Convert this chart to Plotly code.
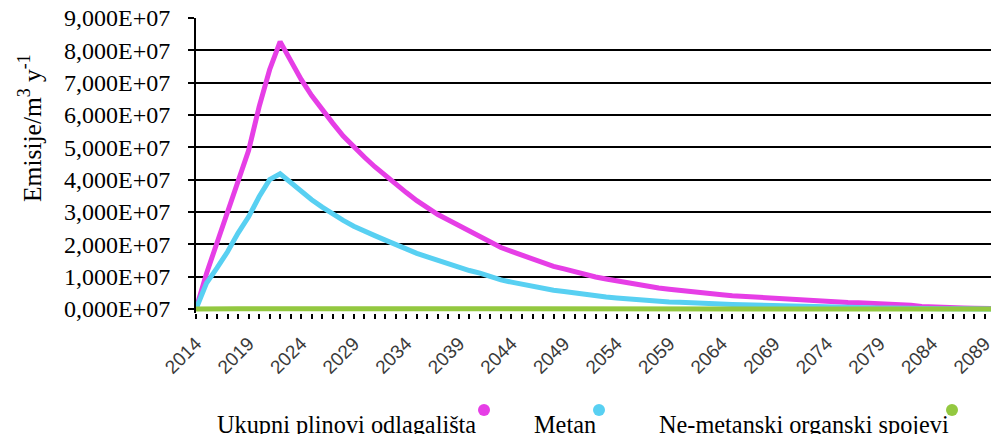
import plotly.graph_objects as go

years = list(range(2014, 2091))

# values in units of 1E+07 m3/y
ukupni = [0.0, 1.1, 2.05, 3.0, 3.9, 4.9, 6.25, 7.4, 8.27,
          7.65, 7.1, 6.6, 6.15, 5.75, 5.35, 5.0, 4.7, 4.4, 4.12,
          3.85, 3.6, 3.35, 3.12, 2.92, 2.75, 2.58, 2.4, 2.23, 2.06,
          1.9, 1.78, 1.66, 1.55, 1.43, 1.32, 1.24, 1.15, 1.07, 0.99,
          0.93, 0.87, 0.80, 0.74, 0.69, 0.65, 0.61, 0.57, 0.53, 0.50,
          0.47, 0.44, 0.41, 0.39, 0.37, 0.34, 0.31, 0.29, 0.27, 0.25,
          0.23, 0.22, 0.21, 0.20, 0.19, 0.18, 0.17, 0.16, 0.15, 0.12,
          0.08, 0.06, 0.05, 0.04, 0.03, 0.02, 0.02, 0.01]

metan = [0.0, 0.8, 1.27, 1.77, 2.35, 2.85, 3.47, 4.0, 4.18,
         3.9, 3.62, 3.38, 3.15, 2.93, 2.74, 2.56, 2.4, 2.27, 2.13,
         1.98, 1.85, 1.72, 1.61, 1.5, 1.38, 1.28, 1.19, 1.11, 1.0,
         0.9, 0.83, 0.76, 0.7, 0.64, 0.58, 0.54, 0.49, 0.45, 0.4,
         0.37, 0.34, 0.31, 0.28, 0.26, 0.24, 0.22, 0.21, 0.19, 0.18,
         0.16, 0.15, 0.14, 0.13, 0.12, 0.11, 0.1, 0.09, 0.08, 0.07,
         0.06, 0.05, 0.05, 0.04, 0.04, 0.03, 0.03, 0.03, 0.02, 0.02,
         0.02, 0.01, 0.01, 0.01, 0.01, 0.01, 0.01, 0.0]

nemetanski = [0.0, 0.01, 0.01, 0.01, 0.01, 0.01, 0.01, 0.01, 0.01,
              0.01, 0.01, 0.01, 0.01, 0.01, 0.01, 0.01, 0.01, 0.01, 0.01,
              0.01, 0.01, 0.01, 0.01, 0.01, 0.01, 0.0, 0.0, 0.0, 0.0,
              0.0, 0.0, 0.0, 0.0, 0.0, 0.0, 0.0, 0.0, 0.0, 0.0,
              0.0, 0.0, 0.0, 0.0, 0.0, 0.0, 0.0, 0.0, 0.0, 0.0,
              0.0, 0.0, 0.0, 0.0, 0.0, 0.0, 0.0, 0.0, 0.0, 0.0,
              0.0, 0.0, 0.0, 0.0, 0.0, 0.0, 0.0, 0.0, 0.0, 0.0,
              0.0, 0.0, 0.0, 0.0, 0.0, 0.0, 0.0, 0.0]

series_names = ["Ukupni plinovi odlagališta", "Metan", "Ne-metanski organski spojevi"]
colors = ["#e63ee6", "#58d0f2", "#93c840"]

y_tickvals = [0, 1, 2, 3, 4, 5, 6, 7, 8, 9]
y_ticktext = ["0,000E+07", "1,000E+07", "2,000E+07", "3,000E+07", "4,000E+07",
              "5,000E+07", "6,000E+07", "7,000E+07", "8,000E+07", "9,000E+07"]
x_tickvals = list(range(2014, 2090, 5))

SERIF = "Liberation Serif"
SANS = "Liberation Sans"

W, H = 991, 434
ml, mr, mt, mb = 196, 0, 18, 121
pw, ph = W - ml - mr, H - mt - mb
zero_px = 309            # pixel row of the value 0
unit_px = (zero_px - mt) / 9.0
ymin = -(H - mb - zero_px) / unit_px

def px(X):
    return (X - ml) / pw

def py(Y):
    return (H - mb - Y) / ph

fig = go.Figure()
for name, vals, col in zip(series_names, [ukupni, metan, nemetanski], colors):
    fig.add_trace(go.Scatter(x=years, y=vals, mode="lines", name=name,
                             line=dict(color=col, width=5),
                             showlegend=False))

fig.update_layout(
    template="none",
    width=W, height=H,
    margin=dict(l=ml, r=mr, t=mt, b=mb, autoexpand=False),
    paper_bgcolor="white", plot_bgcolor="white",
    font=dict(family=SERIF, color="black"),
)
fig.update_xaxes(
    range=[2014, 2089.6], automargin=False,
    tickmode="array", tickvals=x_tickvals, ticktext=[str(v) for v in x_tickvals],
    tickangle=-45, ticklabeloverflow="allow",
    tickfont=dict(family=SANS, size=19, color="#3a3a3a"),
    showgrid=False, zeroline=False,
    showline=False,
    ticks="outside", ticklen=5, tickwidth=2, tickcolor="black",
    ticklabelstandoff=6,
    minor=dict(dtick=1, ticks="outside", ticklen=5, tickwidth=2, tickcolor="black", showgrid=False),
)
fig.update_yaxes(
    range=[ymin, 9], automargin=False,
    tickmode="array", tickvals=y_tickvals, ticktext=y_ticktext,
    tickfont=dict(family=SERIF, size=24, color="black"),
    showgrid=True, gridcolor="black", gridwidth=1.5,
    zeroline=False,
    showline=True, linecolor="black", linewidth=2,
    ticks="outside", ticklen=6, tickwidth=2, tickcolor="black",
    ticklabelstandoff=13,
)

# y axis title
fig.add_annotation(text="Emisije/m<sup>3</sup> y<sup>-1</sup>", xref="paper", yref="paper",
                   x=px(30), y=py(128), xanchor="center", yanchor="middle",
                   textangle=-90, showarrow=False,
                   font=dict(family=SERIF, size=25.5, color="black"))

# legend (text followed by coloured dot)
legend_text_x = [215, 532, 657]
legend_dot_x = [484, 599, 952]
for name, col, tx, dx in zip(series_names, colors, legend_text_x, legend_dot_x):
    fig.add_annotation(text=name, xref="paper", yref="paper",
                       x=px(tx), y=py(424), xanchor="left", yanchor="middle",
                       showarrow=False,
                       font=dict(family=SERIF, size=24.3, color="black"))
    r = 6
    fig.add_shape(type="circle", xref="paper", yref="paper",
                  x0=px(dx - r), x1=px(dx + r), y0=py(410 + r), y1=py(410 - r),
                  fillcolor=col, line=dict(width=0))

fig.write_html("out.html", config={"displayModeBar": False},
               post_script="document.body.style.margin='0px';document.body.style.overflow='hidden';")
